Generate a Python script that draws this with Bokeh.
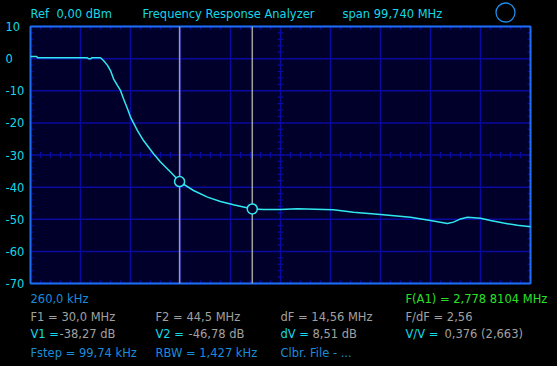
import numpy as np
from bokeh.plotting import figure
from bokeh.models import Range1d
from bokeh.core.properties import value
from bokeh.embed import file_html
from bokeh.resources import INLINE

# ---------------- data ----------------
freq_mhz = [0.26, 1.5, 1.66, 11.6, 11.83, 12.3, 12.43, 14.22, 14.82, 15.62, 16.22, 16.82,
            17.62, 18.21, 18.81, 19.61, 20.21, 21.60, 22.80, 24.80, 26.19, 28.19, 29.98,
            32.78, 35.57, 38.16, 40.75, 44.54, 46.74, 50.13, 53.52, 60.70, 64.69, 70.08,
            76.06, 80.05, 83.44, 84.64, 86.04, 87.43, 90.03, 92.02, 94.62, 97.41, 100.0]
level_db = [0.66, 0.66, 0.26, 0.26, -0.05, -0.05, 0.26, 0.26, -0.58, -2.1, -3.7, -6.3,
            -8.4, -9.9, -12.5, -15.6, -18.2, -22.4, -25.5, -29.6, -32.2, -35.3, -38.27,
            -41.05, -43.1, -44.5, -45.5, -46.78, -47.0, -47.0, -46.75, -47.06, -47.8, -48.5,
            -49.4, -50.4, -51.3, -50.9, -49.9, -49.4, -49.7, -50.4, -51.2, -51.9, -52.3]

f_start, f_span = 0.26, 99.74
y_min, y_max = -70, 10
y_tick_labels = ["10", "0", "-10", "-20", "-30", "-40", "-50", "-60", "-70"]
y_tick_values = [10, 0, -10, -20, -30, -40, -50, -60, -70]

marker_f = [30.0, 44.5]
marker_v = [-38.27, -46.78]

header_texts = ["Ref\u00a0 0,00 dBm", "Frequency Response Analyzer", "span 99,740 MHz"]

# ---------------- layout constants ----------------
W, H = 557, 366
FL, FT, FW, FH = 30, 26, 500, 257          # plot area in page pixels
f_end = f_start + f_span
DX = f_span / FW                            # MHz per pixel
DY = (y_max - y_min) / FH                   # dB per pixel


def X(px):
    return f_start + (px - FL) * DX


def Y(py):
    return y_max - (py - FT) * DY


FONT = value("DejaVu Sans")
FS = "11.5px"

CYAN = "#14d8e8"
TRACE = "#30e8f0"
GRAY = "#a0a0a0"
BLUE_T = "#1a8cdc"
GREEN = "#28e028"
GRID = "#0a0aa0"
EDGE = "#1e6ef0"
PLOT_BG = "#00002a"

p = figure(width=W, height=H, output_backend="svg", toolbar_location=None,
           x_range=Range1d(X(0), X(W)), y_range=Range1d(Y(H), Y(0)),
           x_axis_location=None, y_axis_location=None,
           min_border=0, background_fill_color="black", border_fill_color="black",
           outline_line_color=None)
p.grid.visible = False

# plot area
p.quad(left=[f_start], right=[f_end], bottom=[y_min], top=[y_max],
       fill_color=PLOT_BG, line_color=None)

div = f_span / 10
x_major = [f_start + k * div for k in range(11)]
p.segment(x0=x_major, y0=[y_min] * 11, x1=x_major, y1=[y_max] * 11,
          line_color=GRID, line_width=1.5)
p.segment(x0=[f_start] * len(y_tick_values), y0=y_tick_values,
          x1=[f_end] * len(y_tick_values), y1=y_tick_values,
          line_color=GRID, line_width=1.5)

# minor ticks (edges inward + centre cross both sides)
x_minor = [f_start + k * div / 5 for k in range(51)]
y_minor = list(range(y_min, y_max + 1, 2))
x_center = f_start + 5 * div
y_center = -30
tl = 3
nx, ny = len(x_minor), len(y_minor)
p.segment(x0=x_minor, y0=[y_max] * nx, x1=x_minor, y1=[y_max - tl * DY] * nx, line_color=GRID, line_width=1.2)
p.segment(x0=x_minor, y0=[y_min] * nx, x1=x_minor, y1=[y_min + tl * DY] * nx, line_color=GRID, line_width=1.2)
p.segment(x0=x_minor, y0=[y_center - tl * DY] * nx, x1=x_minor, y1=[y_center + tl * DY] * nx, line_color=GRID, line_width=1.2)
p.segment(x0=[f_start] * ny, y0=y_minor, x1=[f_start + tl * DX] * ny, y1=y_minor, line_color=GRID, line_width=1.2)
p.segment(x0=[f_end] * ny, y0=y_minor, x1=[f_end - tl * DX] * ny, y1=y_minor, line_color=GRID, line_width=1.2)
p.segment(x0=[x_center - tl * DX] * ny, y0=y_minor, x1=[x_center + tl * DX] * ny, y1=y_minor, line_color=GRID, line_width=1.2)

# plot area border
p.quad(left=[f_start], right=[f_end], bottom=[y_min], top=[y_max],
       fill_alpha=0, line_color=EDGE, line_width=2)

# cursor lines
p.segment(x0=marker_f, y0=[y_min] * 2, x1=marker_f, y1=[y_max] * 2,
          line_color=GRAY, line_width=1.5)

# trace
p.line(freq_mhz, level_db, line_color=TRACE, line_width=1.5)
p.scatter(marker_f, marker_v, size=10, fill_color=PLOT_BG, fill_alpha=1,
          line_color=TRACE, line_width=1.5)

# y tick labels
p.text(x=[f_start] * len(y_tick_values), y=y_tick_values, text=y_tick_labels,
       x_offset=-25, text_align="left", text_baseline="middle", text_color=CYAN,
       text_font=FONT, text_font_size=FS)


def lab(px, py, text, color):
    p.text(x=[X(px)], y=[Y(py)], text=[text], text_color=color, text_font=FONT,
           text_font_size=FS, text_align="left", text_baseline="middle")


lab(30, 13, header_texts[0], CYAN)
lab(142, 13, header_texts[1], CYAN)
lab(342, 13, header_texts[2], CYAN)

# circle indicator top right
p.scatter([X(505)], [Y(12)], size=19, fill_alpha=0, line_color="#1e8ce6", line_width=1.3)

r0, r1, r2, r3 = 298, 316, 333, 352
lab(30, r0, "260,0 kHz", BLUE_T)
lab(405, r0, "F(A1) = 2,778 8104 MHz", GREEN)

lab(30, r1, "F1 = 30,0 MHz", GRAY)
lab(155, r1, "F2 = 44,5 MHz", GRAY)
lab(280, r1, "dF = 14,56 MHz", GRAY)
lab(405, r1, "F/dF = 2,56", GRAY)

lab(30, r2, "V1 =", CYAN)
lab(59, r2, "-38,27 dB", GRAY)
lab(155, r2, "V2 =", CYAN)
lab(188, r2, "-46,78 dB", GRAY)
lab(280, r2, "dV =", CYAN)
lab(312, r2, "8,51 dB", GRAY)
lab(405, r2, "V/V =", CYAN)
lab(444, r2, "0,376 (2,663)", GRAY)

lab(30, r3, "Fstep = 99,74 kHz", BLUE_T)
lab(155, r3, "RBW = 1,427 kHz", BLUE_T)
lab(280, r3, "Clbr. File - ...", BLUE_T)

html = file_html(p, INLINE)
html = html.replace("<head>", "<head><style>html,body{margin:0;padding:0;background:#000;}</style>", 1)
open("out.html", "w").write(html)
